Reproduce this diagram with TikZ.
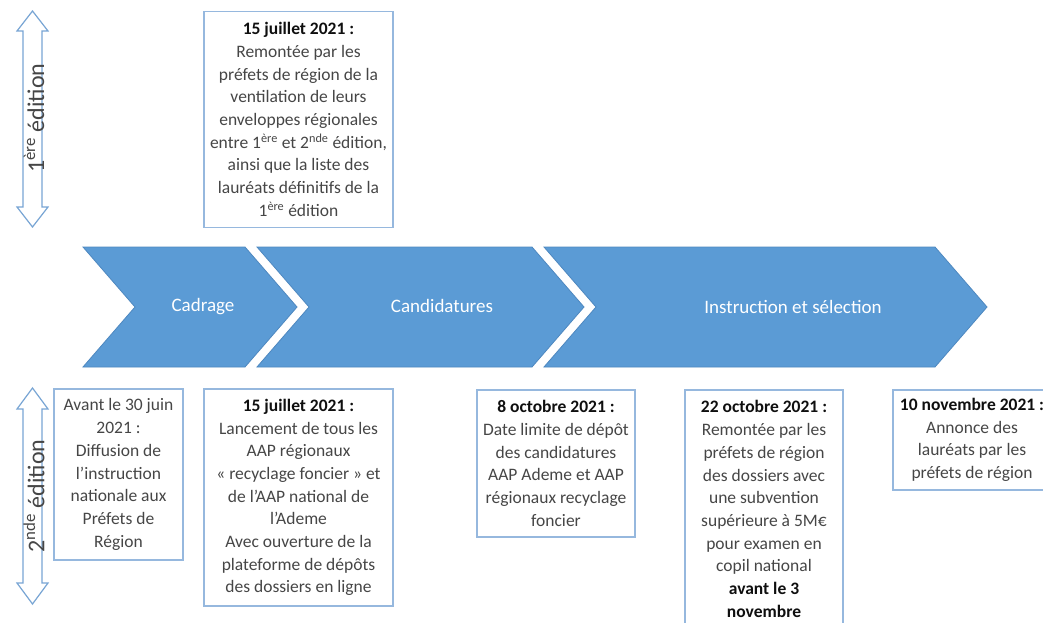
\documentclass[tikz,border=0pt]{standalone}
\usepackage{fontspec}
\setmainfont{Carlito}
\newfontfamily\rotfont{Carlito}
\definecolor{chevfill}{RGB}{91,155,213}
\definecolor{chevedge}{RGB}{78,136,192}
\definecolor{boxedge}{RGB}{150,184,222}
\definecolor{arrowedge}{RGB}{120,165,212}
\definecolor{txt}{RGB}{70,70,70}
\definecolor{datecol}{RGB}{15,15,15}
\tikzset{
  chev/.style={fill=chevfill, draw=chevedge, line width=0.8pt, line join=miter},
  chevlabel/.style={text=white, font=\fontsize{19}{23}\selectfont},
  evbox/.style={draw=boxedge, line width=1.2pt, fill=white, align=center, text=txt,
    font=\fontsize{17.5}{22.7}\selectfont, inner sep=0pt},
  dblarrow/.style={draw=arrowedge, line width=1.2pt, fill=white, line join=miter},
  edlabel/.style={rotate=90, text=txt, font=\rotfont\fontsize{24}{28}\selectfont, inner sep=0pt},
}
\newcommand{\dte}[1]{{\color{datecol}\bfseries #1}}
\begin{document}
\begin{tikzpicture}[x=1pt,y=-1pt]
\useasboundingbox (0,0) rectangle (1043,623);
\fill[white] (0,0) rectangle (1043,623);
\clip (0,0) rectangle (1043,623);

% chevrons
\draw[chev] (83,247) -- (245,247) -- (297,307) -- (245,367) -- (83,367) -- (135,307) -- cycle;
\draw[chev] (257,247) -- (532,247) -- (584,307) -- (532,367) -- (257,367) -- (309,307) -- cycle;
\draw[chev] (544,247) -- (935,247) -- (987,307) -- (935,367) -- (544,367) -- (596,307) -- cycle;
\node[chevlabel] (cad) at (203,307) {Cadrage};
\node[chevlabel] (cand) at (442,306) {Candidatures};
\node[chevlabel] (instr) at (793,307) {Instruction et sélection};

% edition arrows
\draw[dblarrow] (32.5,11) -- (48,31) -- (42,31) -- (42,207) -- (48,207) -- (32.5,227)
  -- (17,207) -- (23,207) -- (23,31) -- (17,31) -- cycle;
\draw[dblarrow] (32.5,388) -- (48,409) -- (42,409) -- (42,583) -- (48,583) -- (32.5,604)
  -- (17,583) -- (23,583) -- (23,409) -- (17,409) -- cycle;
\node[edlabel] (ed1) at (34,118) {1\textsuperscript{ère} édition};
\node[edlabel] (ed2) at (34,496) {2\textsuperscript{nde} édition};

% top box
\node[evbox, minimum width=189, minimum height=216] (top) at (298.5,119.5)
  {\dte{15 juillet 2021 :}\\ Remontée par les\\ préfets de région de la\\ ventilation de leurs\\
   enveloppes régionales\\ entre 1\textsuperscript{ère} et 2\textsuperscript{nde} édition,\\
   ainsi que la liste des\\ lauréats définitifs de la\\ 1\textsuperscript{ère} édition};

% bottom boxes
\node[evbox, minimum width=129, minimum height=171] (a) at (118.5,474.5)
  {Avant le 30 juin\\ 2021 :\\ Diffusion de\\ l’instruction\\ nationale aux\\ Préfets de\\ Région};
\node[evbox, minimum width=189, minimum height=217] (b) at (298.5,497.5)
  {\dte{15 juillet 2021 :}\\ Lancement de tous les\\ AAP régionaux\\ «~recyclage foncier~» et\\
   de l’AAP national de\\ l’Ademe\\ Avec ouverture de la\\ plateforme de dépôts\\ des dossiers en ligne};
\node[evbox, minimum width=158, minimum height=147] (c) at (556,463.5)
  {\dte{8 octobre 2021 :}\\ Date limite de dépôt\\ des candidatures\\ AAP Ademe et AAP\\ régionaux recyclage\\ foncier};
\node[evbox, minimum width=158, minimum height=238] (d) at (764,509)
  {\dte{22 octobre 2021 :}\\ Remontée par les\\ préfets de région\\ des dossiers avec\\ une subvention\\
   supérieure à 5M€\\ pour examen en\\ copil national\\ \dte{avant le 3}\\ \dte{novembre}};
\node[evbox, minimum width=158, minimum height=100] (e) at (972,440)
  {\dte{10 novembre 2021 :}\\ Annonce des\\ lauréats par les\\ préfets de région};
\end{tikzpicture}
\end{document}
